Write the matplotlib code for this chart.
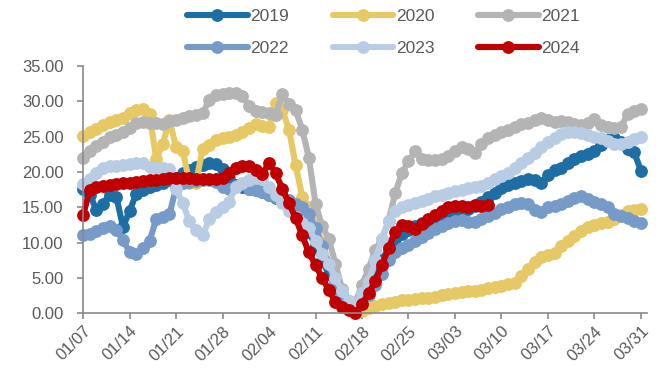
import numpy as np
import matplotlib.pyplot as plt

plt.rcParams['font.family'] = ['Liberation Sans', 'DejaVu Sans']

# x axis: days counted from 01/07, one tick per week
date_ticks = ['01/07', '01/14', '01/21', '01/28', '02/04', '02/11', '02/18',
              '02/25', '03/03', '03/10', '03/17', '03/24', '03/31']

years = ['2019', '2020', '2021', '2022', '2023', '2024']
colors = ['#1c6ea5', '#e6c864', '#b4b4b4', '#769bc8', '#b8cce4', '#c00000']

v2019 = [17.6, 16.8, 14.6, 15.5, 16.8, 16.5, 12.2, 14.5, 16.9, 17.5,
         17.9, 18.2, 18.5, 18.8, 19.2, 19.8, 20.3, 20.7, 21.0, 21.3,
         21.1, 20.4, 19.0, 18.2, 17.8, 17.6, 17.5, 17.2, 16.8, 16.3,
         15.8, 15.0, 14.0, 12.8, 11.5, 9.5, 7.5, 5.5, 3.5, 1.8,
         0.8, 0.6, 2.0, 3.8, 5.8, 7.5, 9.2, 10.5, 11.2, 11.8,
         12.3, 12.7, 13.0, 13.3, 13.6, 13.9, 14.1, 14.4, 14.8, 15.2,
         15.8, 16.4, 17.0, 17.7, 18.1, 18.4, 18.7, 19.0, 18.8, 18.5,
         19.5, 20.3, 20.6, 21.3, 21.8, 22.3, 22.6, 23.0, 23.8, 24.5,
         24.8, 24.2, 23.3, 22.8, 20.2]
v2020 = [25.1, 25.6, 26.1, 26.6, 27.1, 27.4, 27.7, 28.3, 28.8, 28.9,
         28.2, 21.8, 24.0, 27.3, 23.5, 23.0, 18.5, 18.5, 23.3, 23.8,
         24.5, 24.8, 25.0, 25.2, 25.7, 26.2, 26.8, 26.5, 26.3, 29.8,
         28.8, 26.0, 21.0, 16.5, 15.0, 12.5, 10.0, 7.0, 4.5, 2.3,
         0.8, 0.0, 0.3, 0.7, 1.0, 1.3, 1.5, 1.6, 1.8, 1.9,
         2.0, 2.1, 2.2, 2.3, 2.5, 2.7, 2.9, 3.0, 3.1, 3.2,
         3.3, 3.5, 3.7, 3.9, 4.1, 4.3, 5.2, 6.2, 7.2, 8.0,
         8.3, 8.5, 9.5, 10.2, 10.9, 11.6, 12.2, 12.5, 12.7, 12.9,
         13.4, 13.9, 14.4, 14.6, 14.7]
v2021 = [22.0, 23.0, 23.7, 24.3, 24.9, 25.3, 25.7, 26.2, 26.9, 27.1,
         27.0, 27.0, 26.8, 27.2, 27.4, 27.6, 27.9, 28.1, 28.3, 30.2,
         30.9, 31.1, 31.2, 31.2, 30.8, 29.3, 28.6, 28.5, 28.3, 28.1,
         31.0, 29.6, 28.8, 26.0, 22.0, 15.5, 12.3, 10.5, 7.0, 3.4,
         1.7, 1.5, 4.0, 6.3, 9.0, 10.5, 13.0, 17.0, 19.8, 21.5,
         22.9, 21.9, 21.7, 21.7, 21.9, 22.2, 23.0, 23.6, 23.3, 22.7,
         24.0, 24.8, 25.2, 25.7, 26.0, 26.4, 26.8, 27.0, 27.4, 27.7,
         27.4, 27.1, 27.2, 27.1, 26.8, 26.7, 27.0, 27.5, 26.7, 26.4,
         26.2, 26.3, 28.2, 28.6, 28.9]
v2022 = [11.0, 11.2, 11.6, 12.1, 12.3, 11.8, 10.3, 8.7, 8.4, 9.2,
         10.2, 13.3, 13.6, 14.0, 17.8, 18.5, 18.6, 18.7, 18.8, 18.9,
         18.6, 17.8, 17.6, 18.0, 18.3, 17.6, 17.4, 17.2, 16.8, 16.5,
         16.3, 16.0, 15.5, 15.0, 14.0, 12.0, 9.5, 7.0, 4.5, 2.5,
         1.0, 0.6, 1.3, 2.5, 4.0, 5.5, 7.5, 8.6, 9.2, 9.7,
         10.2, 10.8, 11.3, 11.9, 12.3, 12.8, 13.1, 13.2, 12.9, 12.9,
         13.3, 13.8, 14.2, 14.7, 15.1, 15.4, 15.6, 15.5, 14.6, 14.3,
         15.0, 15.2, 15.5, 15.9, 16.3, 16.6, 16.2, 15.8, 15.4, 15.0,
         14.1, 13.8, 13.5, 13.1, 12.7]
v2023 = [18.3, 19.0, 19.8, 20.5, 20.8, 20.9, 21.0, 21.1, 21.2, 21.2,
         20.7, 20.6, 20.5, 20.4, 17.6, 15.6, 13.0, 11.8, 11.0, 13.3,
         14.3, 15.0, 15.8, 17.9, 18.5, 18.9, 19.2, 19.0, 17.8, 16.8,
         15.6, 14.5, 13.6, 12.8, 12.0, 10.2, 8.4, 7.0, 5.0, 3.2,
         1.7, 1.2, 2.8, 4.5, 7.5, 10.5, 13.0, 14.5, 15.0, 15.3,
         15.6, 15.9, 16.2, 16.6, 16.8, 17.0, 17.3, 17.5, 17.7, 17.8,
         18.0, 18.5, 19.0, 19.4, 19.9, 20.5, 21.2, 22.0, 22.7, 23.5,
         24.2, 24.8, 25.4, 25.6, 25.6, 25.5, 25.3, 25.0, 24.8, 24.4,
         24.0, 23.9, 24.3, 24.6, 24.9]
v2024 = [13.9, 17.5, 17.8, 18.0, 18.2, 18.3, 18.4, 18.5, 18.6, 18.7,
         18.8, 18.9, 19.0, 19.1, 19.2, 19.1, 19.1, 19.0, 19.0, 19.0,
         19.0, 19.1, 19.8, 20.5, 20.8, 20.8, 20.3, 19.7, 21.3, 19.8,
         17.6, 15.6, 13.5, 11.0, 8.6, 6.8, 5.0, 3.3, 1.6, 0.8,
         0.4, 0.0, 1.3, 2.8, 4.5, 6.8, 9.2, 11.5, 12.5, 12.4,
         11.9, 12.6, 13.3, 13.9, 14.5, 15.0, 15.2, 15.2, 15.1, 15.3,
         15.2, 15.3]

series = [v2019, v2020, v2021, v2022, v2023, v2024]

grey = '#898989'
txt = '#595959'

fig, ax = plt.subplots(figsize=(6.6, 3.71), dpi=100)
fig.subplots_adjust(left=0.126, right=0.98, bottom=0.156, top=0.822)

lines = []
for name, vals, c in zip(years, series, colors):
    ln, = ax.plot(np.arange(len(vals)), vals, color=c, lw=4.4, marker='o', ms=8.2,
                  solid_capstyle='round', solid_joinstyle='round', clip_on=False,
                  label=name)
    lines.append(ln)

ax.set_xlim(0, 84.9)
ax.set_ylim(0, 35)
ax.set_xticks(np.arange(0, 85, 7))
ax.set_xticklabels(date_ticks, rotation=45, ha='right', rotation_mode='anchor')
ax.set_yticks(np.arange(0, 36, 5))
ax.set_yticklabels(['%.2f' % v for v in np.arange(0, 36, 5)])

for s in ['top', 'right']:
    ax.spines[s].set_visible(False)
for s in ['left', 'bottom']:
    ax.spines[s].set_color(grey)
    ax.spines[s].set_linewidth(1.2)
ax.tick_params(direction='out', length=4, width=1.2, color=grey,
               labelcolor=txt, labelsize=12)
ax.tick_params(axis='y', pad=10)

# legend: two rows of three, matplotlib fills column by column
order = [0, 3, 1, 4, 2, 5]
leg = fig.legend([lines[i] for i in order], [years[i] for i in order],
                 ncol=3, loc='center', bbox_to_anchor=(0.581, 0.913),
                 frameon=False, fontsize=12.5, handlelength=3.5, handletextpad=0.15,
                 columnspacing=2.5, labelspacing=0.95, borderpad=0)
for t in leg.get_texts():
    t.set_color(txt)

plt.savefig('out.png', dpi=100)
